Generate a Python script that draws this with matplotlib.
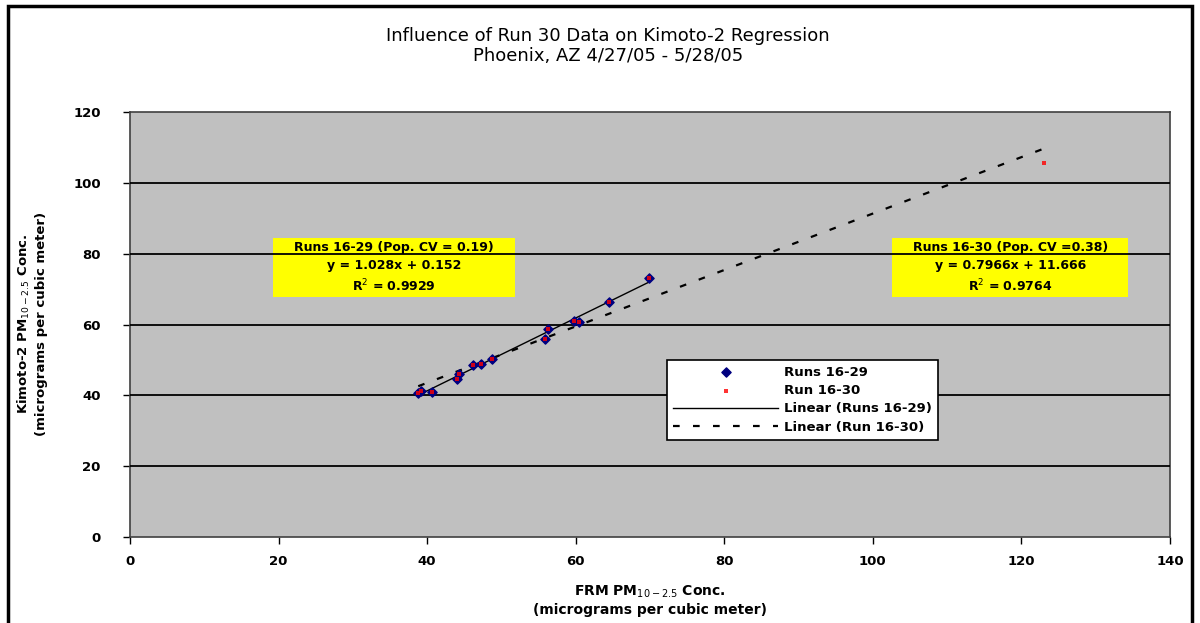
import numpy as np
import matplotlib
matplotlib.use('Agg')
import matplotlib.pyplot as plt
from matplotlib.patches import Rectangle

# data
frm_16_29 = [38.8, 39.2, 40.7, 44.0, 44.3, 46.2, 47.2, 48.7, 55.8, 56.3, 59.8, 60.5, 64.5, 69.8]
kim_16_29 = [40.8, 41.2, 41.0, 44.5, 46.0, 48.5, 48.8, 50.2, 56.0, 58.8, 61.0, 60.8, 66.3, 73.0]
frm_16_30 = frm_16_29 + [123.0]
kim_16_30 = kim_16_29 + [105.5]

fit_16_29 = (1.028, 0.152)
fit_16_30 = (0.7966, 11.666)

x_ticks = [0, 20, 40, 60, 80, 100, 120, 140]
y_ticks = [0, 20, 40, 60, 80, 100, 120]

W, H = 1200, 623
fig = plt.figure(figsize=(W / 100, H / 100), dpi=100)
fig.patch.set_facecolor('white')

# axes rect in pixels: left 130, right 1170, top 112, bottom 537
ax = fig.add_axes([130 / W, 1 - 537 / H, 1040 / W, 425 / H])
ax.set_facecolor('#C0C0C0')
ax.set_xlim(0, 140)
ax.set_ylim(0, 120)

for yv in y_ticks[1:-1]:
    ax.axhline(yv, color='black', lw=1.3, zorder=3)

for s in ax.spines.values():
    s.set_color('#404040')
    s.set_linewidth(1.2)

ax.set_xticks(x_ticks)
ax.set_yticks(y_ticks)
ax.set_xticklabels([str(v) for v in x_ticks], fontsize=9.5, fontweight='bold', family='DejaVu Sans')
ax.set_yticklabels([str(v) for v in y_ticks], fontsize=9.5, fontweight='bold', family='DejaVu Sans')
ax.tick_params(direction='out', length=5, width=1, color='black', pad=8)
ax.tick_params(axis='y', pad=16)

# trend lines
xa = np.array([min(frm_16_29), max(frm_16_29)])
ax.plot(xa, fit_16_29[0] * xa + fit_16_29[1], color='black', lw=1,
        label='Linear (Runs 16-29)', zorder=4)
xb = np.array([min(frm_16_30), max(frm_16_30)])
ax.plot(xb, fit_16_30[0] * xb + fit_16_30[1], color='black', lw=1.6,
        dashes=(3, 6), label='Linear (Run 16-30)', zorder=4)

ax.scatter(frm_16_29, kim_16_29, marker='D', s=22, color='#000080',
           label='Runs 16-29', zorder=5)
ax.scatter(frm_16_30, kim_16_30, marker='s', s=9, color='#FF0000', alpha=0.8,
           label='Run 16-30', zorder=6, linewidths=0)

h, l = ax.get_legend_handles_labels()
order = [2, 3, 0, 1]
leg = ax.legend([h[i] for i in order], [l[i] for i in order], loc='upper left',
                bbox_to_anchor=((667 - 130) / 1040, (537 - 360) / 425),
                fancybox=False, edgecolor='black', framealpha=1,
                prop={'size': 9.5, 'weight': 'bold', 'family': 'DejaVu Sans'},
                handlelength=8, borderpad=0.45, labelspacing=0.4, borderaxespad=0,
                handletextpad=0.4)
leg.get_frame().set_linewidth(1.2)
leg.set_zorder(7)

# yellow equation boxes (drawn under the grid lines, as in the source)
ax.add_patch(Rectangle((19.25, 67.8), 32.6, 16.7, facecolor='#FFFF00',
                       edgecolor='none', zorder=2))
ax.add_patch(Rectangle((102.6, 67.8), 31.8, 16.7, facecolor='#FFFF00',
                       edgecolor='none', zorder=2))
txt_kw = dict(fontsize=9, fontweight='bold', family='DejaVu Sans', ha='center',
              va='center', linespacing=1.45, zorder=4)
ax.text(35.55, 76.0, 'Runs 16-29 (Pop. CV = 0.19)\ny = 1.028x + 0.152\nR$^2$ = 0.9929', **txt_kw)
ax.text(118.5, 76.0, 'Runs 16-30 (Pop. CV =0.38)\ny = 0.7966x + 11.666\nR$^2$ = 0.9764', **txt_kw)

fig.text(608 / W, 1 - 46 / H,
         'Influence of Run 30 Data on Kimoto-2 Regression\nPhoenix, AZ 4/27/05 - 5/28/05',
         ha='center', va='center', fontsize=13, family='DejaVu Sans', linespacing=1.2)

fig.text(650 / W, 1 - 600 / H,
         'FRM PM$_{10-2.5}$ Conc.\n(micrograms per cubic meter)',
         ha='center', va='center', fontsize=10, fontweight='bold', family='DejaVu Sans',
         linespacing=1.3)
fig.text(32 / W, 1 - 324 / H,
         'Kimoto-2 PM$_{10-2.5}$ Conc.\n(micrograms per cubic meter)',
         ha='center', va='center', rotation=90, fontsize=9.5, fontweight='bold',
         family='DejaVu Sans', linespacing=1.3)

# page frame
fig.patches.append(Rectangle((8 / W, -0.1), (1192 - 8) / W, 1.1 - 6 / H,
                             transform=fig.transFigure, fill=False,
                             edgecolor='black', lw=2.5))

fig.savefig('out.png', dpi=100)
